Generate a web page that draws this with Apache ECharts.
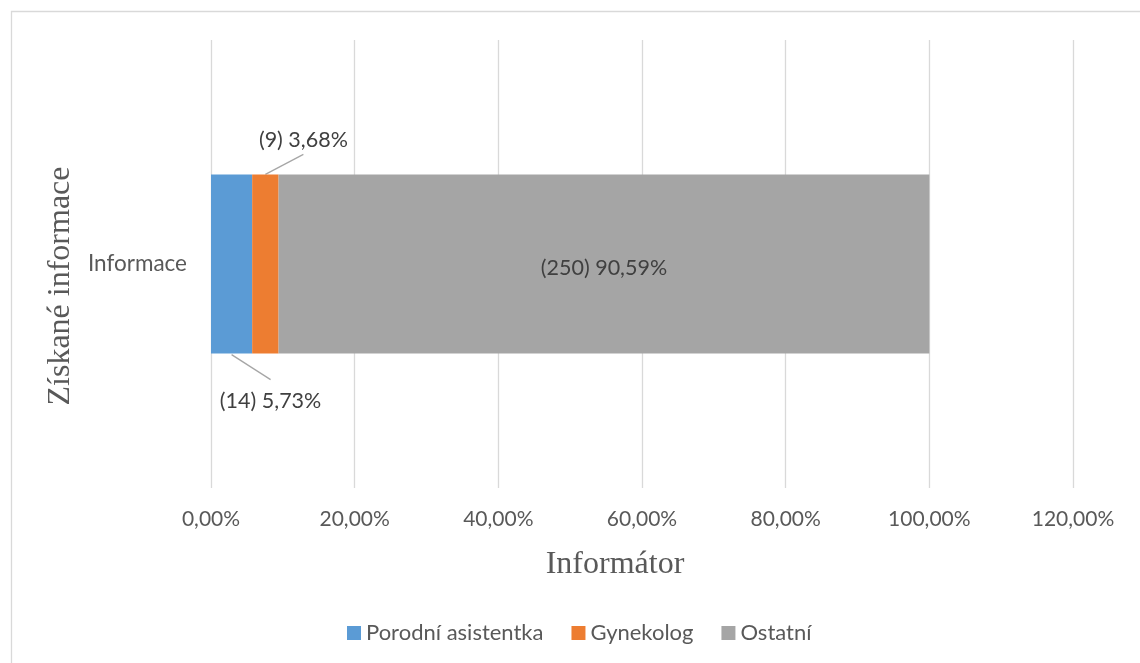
<!DOCTYPE html>
<html>
<head>
<meta charset="utf-8">
<script src="https://cdn.jsdelivr.net/npm/echarts@6/dist/echarts.min.js"></script>
<style>
  html, body { margin: 0; padding: 0; background: #ffffff; }
  #chart { width: 1140px; height: 663px; }
</style>
</head>
<body>
<div id="chart"></div>
<script>
// Source of information, one stacked horizontal bar
const categories = ['Informace'];
const seriesNames = ['Porodní asistentka', 'Gynekolog', 'Ostatní'];
const counts = [14, 9, 250];
const shares = [5.73, 3.68, 90.59];
const seriesColors = ['#5b9bd5', '#ed7d31', '#a5a5a5'];
const axisMin = 0;
const axisMax = 120;
const axisStep = 20;

const pct = v => v.toFixed(2).replace('.', ',') + '%';
const labelText = i => '(' + counts[i] + ') ' + pct(shares[i]);

const chart = echarts.init(document.getElementById('chart'), null, { renderer: 'canvas' });

const labelFont = { fontFamily: 'Lato', fontSize: 21.5, color: '#404040' };

// per-series label placement: blue below, orange above, grey inside
const labelSetups = [
  { position: 'bottom', distance: 5, dx: 39, dy: 31, callout: 'below' },
  { position: 'top', distance: 5, dx: 38, dy: -18, callout: 'above' },
  { position: 'inside', distance: 0, dx: 0, dy: 4, callout: null }
];

const series = seriesNames.map((name, i) => ({
  name: name,
  type: 'bar',
  stack: 'total',
  barWidth: '40%',
  data: [shares[i]],
  itemStyle: { color: seriesColors[i] },
  label: Object.assign({
    show: true,
    position: labelSetups[i].position,
    distance: labelSetups[i].distance,
    formatter: () => labelText(i)
  }, labelFont),
  labelLayout: { dx: labelSetups[i].dx, dy: labelSetups[i].dy },
  emphasis: { disabled: true }
}));

const frameAndTitles = [
  {
    id: 'frame',
    type: 'rect',
    shape: { x: 11.5, y: 11.5, width: 1200, height: 700 },
    style: { fill: 'none', stroke: '#d9d9d9', lineWidth: 1.3 },
    silent: true
  },
  {
    id: 'xTitle',
    type: 'text',
    x: 615,
    y: 565,
    style: {
      text: 'Informátor',
      font: '32px "Liberation Serif"',
      fill: '#595959',
      align: 'center',
      verticalAlign: 'middle'
    },
    silent: true
  },
  {
    id: 'yTitle',
    type: 'text',
    x: 61,
    y: 286,
    rotation: Math.PI / 2,
    style: {
      text: 'Získané informace',
      font: '32px "Liberation Serif"',
      fill: '#595959',
      align: 'center',
      verticalAlign: 'middle'
    },
    silent: true
  }
];

chart.setOption({
  animation: false,
  backgroundColor: '#ffffff',
  grid: { left: 211, right: 67, top: 40, bottom: 175, containLabel: false },
  xAxis: {
    type: 'value',
    min: axisMin,
    max: axisMax,
    interval: axisStep,
    axisLine: { show: false },
    axisTick: { show: false },
    splitLine: { show: true, lineStyle: { color: '#d9d9d9', width: 1.3 } },
    axisLabel: {
      margin: 21,
      fontFamily: 'Lato',
      fontSize: 21,
      color: '#595959',
      formatter: v => pct(v)
    }
  },
  yAxis: {
    type: 'category',
    data: categories,
    axisLine: { show: false },
    axisTick: { show: false },
    axisLabel: { margin: 24, fontFamily: 'Lato', fontSize: 22.5, color: '#595959' }
  },
  legend: {
    data: seriesNames,
    left: 347,
    top: 622,
    padding: 0,
    icon: 'rect',
    itemWidth: 14,
    itemHeight: 14,
    itemGap: 28,
    textStyle: { fontFamily: 'Lato', fontSize: 22, color: '#595959' },
    selectedMode: false
  },
  graphic: frameAndTitles,
  series: series
});

// leader lines: from the middle of a segment's edge to its moved label
const leaders = [];
labelSetups.forEach((s, i) => {
  if (!s.callout) return;
  const lay = chart.getModel().getSeriesByIndex(i).getData().getItemLayout(0);
  const x0 = Math.min(lay.x, lay.x + lay.width);
  const y0 = Math.min(lay.y, lay.y + lay.height);
  const w = Math.abs(lay.width);
  const h = Math.abs(lay.height);
  const cx = x0 + w / 2;
  const edgeY = s.callout === 'below' ? y0 + h + 1 : y0;
  const endY = s.callout === 'below' ? edgeY + 25 : edgeY - 20;
  leaders.push({
    id: 'leader' + i,
    type: 'line',
    shape: { x1: cx, y1: edgeY, x2: cx + s.dx, y2: endY },
    style: { stroke: '#a6a6a6', lineWidth: 1.3 },
    silent: true
  });
});
chart.setOption({ graphic: frameAndTitles.concat(leaders) });
</script>
</body>
</html>
